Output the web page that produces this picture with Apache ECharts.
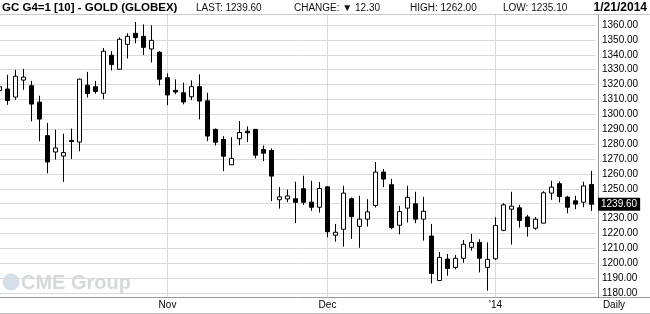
<!DOCTYPE html>
<html>
<head>
<meta charset="utf-8">
<script src="https://cdn.jsdelivr.net/npm/echarts@6/dist/echarts.min.js"></script>
<style>
html,body{margin:0;padding:0;background:#fff;}
#chart{width:650px;height:314px;}
</style>
</head>
<body>
<div id="chart"></div>
<script>
const dates = [
 '2013-10-03','2013-10-04','2013-10-07','2013-10-08','2013-10-09','2013-10-10','2013-10-11','2013-10-14','2013-10-15','2013-10-16',
 '2013-10-17','2013-10-18','2013-10-21','2013-10-22','2013-10-23','2013-10-24','2013-10-25','2013-10-28','2013-10-29','2013-10-30',
 '2013-10-31','2013-11-01','2013-11-04','2013-11-05','2013-11-06','2013-11-07','2013-11-08','2013-11-11','2013-11-12','2013-11-13',
 '2013-11-14','2013-11-15','2013-11-18','2013-11-19','2013-11-20','2013-11-21','2013-11-22','2013-11-25','2013-11-26','2013-11-27',
 '2013-11-29','2013-12-02','2013-12-03','2013-12-04','2013-12-05','2013-12-06','2013-12-09','2013-12-10','2013-12-11','2013-12-12',
 '2013-12-13','2013-12-16','2013-12-17','2013-12-18','2013-12-19','2013-12-20','2013-12-23','2013-12-24','2013-12-26','2013-12-27',
 '2013-12-30','2013-12-31','2014-01-02','2014-01-03','2014-01-06','2014-01-07','2014-01-08','2014-01-09','2014-01-10','2014-01-13',
 '2014-01-14','2014-01-15','2014-01-16','2014-01-17','2014-01-21'
];
const opens = [
 1316,1317,1311.6,1323,1319.2,1308.2,1285.7,1274.7,1272,1282.5,
 1281.4,1319.6,1318.5,1314.2,1339.7,1330.3,1347,1354.4,1352.4,1343.9,
 1341.7,1324.6,1316.1,1314.5,1311.8,1318.6,1309.1,1289.9,1283.1,1266.1,
 1283.6,1288.7,1289.9,1276.4,1275.7,1242.6,1243.2,1243.3,1250,1241,
 1237.6,1251.3,1218.8,1222.8,1243.3,1224.8,1229.6,1238.8,1261.2,1252.7,
 1225.5,1237,1239.9,1229.6,1218.3,1188.4,1202.8,1197.2,1203.3,1210.7,
 1214,1197.2,1203,1222.1,1236.3,1237.2,1231.1,1223.5,1226.9,1247.1,
 1253.4,1244.4,1241.9,1241,1252.9
];
const closes = [
 1318.5,1309.3,1325.6,1325,1306.9,1296.8,1268,1277.4,1274.3,1281.8,
 1323.6,1314,1315.4,1342.4,1333.4,1350.4,1352.4,1351.5,1345,1349.7,
 1323.6,1313,1315,1308.3,1318.6,1308.9,1285.4,1281.3,1271.9,1270.4,
 1287.8,1287.6,1272.6,1273.9,1258.5,1244.6,1245.2,1240.9,1240.9,1237.6,
 1250.2,1221.2,1220.8,1247.1,1231.3,1229.6,1234.5,1261.2,1256.5,1223.9,
 1234.7,1244.2,1229.6,1234.9,1193.1,1203.9,1196.5,1203.3,1212.7,1214,
 1203.3,1202.6,1225.3,1239.2,1238.3,1228.7,1224.6,1229.6,1247.3,1251.1,
 1244.8,1237.6,1239.7,1251.9,1239.6
];
const lows = [
 1314,1306.4,1309.8,1316.5,1295.3,1281.9,1260.4,1269.6,1254.6,1270,
 1275.2,1311.3,1313.8,1310.2,1329.4,1330,1337.5,1347.7,1339.9,1334.8,
 1319.4,1306.2,1313.6,1306.7,1309.6,1296.6,1282,1279.1,1261.8,1266,
 1279.3,1281.3,1270.4,1268.6,1241.7,1236.7,1241,1226.9,1239.2,1235.2,
 1234,1217.4,1214.5,1211.1,1216.3,1210.4,1224.6,1237.4,1251.1,1222.8,
 1219.4,1227.3,1226.9,1215.2,1186.4,1188,1191.6,1195.8,1200.3,1208.4,
 1193.8,1181.5,1202.1,1221.5,1212.5,1223.9,1217.9,1222.4,1226.9,1242.6,
 1240.8,1233.6,1236.3,1237.6,1235.1
];
const highs = [
 1321,1326.5,1329.9,1330.5,1322.5,1312.5,1294.2,1289.7,1287,1290.4,
 1324,1328.5,1322.5,1344.6,1342.4,1351.7,1354.4,1362,1360.4,1359.8,
 1342.6,1327.5,1323.5,1321.3,1322.8,1326.9,1314.5,1290.5,1285.4,1284.7,
 1295.5,1291.9,1290.2,1279.1,1277.1,1251.1,1249.5,1254.7,1258.8,1255.4,
 1254.5,1251.5,1226.4,1252,1244.2,1245.3,1243,1268,1263.3,1256.7,
 1238.5,1252,1248,1244.6,1226.4,1207.5,1206.2,1205.5,1215.6,1219.7,
 1216.1,1214,1230.9,1240.3,1248,1239.2,1232.5,1231.1,1248.4,1255.4,
 1254.9,1245.3,1245.3,1254.7,1262
];
const monthStartIdx = [21, 41, 62];
const monthLabels = ['Nov', 'Dec', "'14"];
const yGridValues = [1180,1190,1200,1210,1220,1230,1240,1250,1260,1270,1280,1290,1300,1310,1320,1330,1340,1350,1360];
const yLabelValues = [1180,1190,1200,1210,1220,1230,1250,1260,1270,1280,1290,1300,1310,1320,1330,1340,1350,1360];
const lastPrice = 1239.60;
const headerTitle = 'GC G4=1 [10] - GOLD (GLOBEX)';
const headerLast = 'LAST: 1239.60';
const headerChange = 'CHANGE: \u25BC 12.30';
const headerHigh = 'HIGH: 1262.00';
const headerLow = 'LOW: 1235.10';
const headerDate = '1/21/2014';

const FONT = '"Liberation Sans", Arial, "DejaVu Sans", sans-serif';
const candleData = dates.map((d, i) => [opens[i], closes[i], lows[i], highs[i]]);
const monthLines = monthStartIdx.map(i => ({ xAxis: dates[i] }));

const chart = echarts.init(document.getElementById('chart'), null, { renderer: 'canvas' });
chart.setOption({
  animation: false,
  backgroundColor: '#fff',
  grid: { left: -4.5, top: 15, width: 600, bottom: 16.7, containLabel: false, outerBoundsMode: 'none' },
  xAxis: {
    type: 'category',
    data: dates,
    boundaryGap: true,
    axisLine: { show: true, lineStyle: { color: '#999', width: 1 } },
    axisTick: { show: false },
    splitLine: { show: false },
    axisLabel: {
      interval: (idx) => monthStartIdx.indexOf(idx) >= 0,
      formatter: (v, idx) => { const k = monthStartIdx.indexOf(idx); return k >= 0 ? monthLabels[k] : ''; },
      color: '#000', fontSize: 10, fontFamily: FONT, margin: 3
    }
  },
  yAxis: {
    type: 'value',
    position: 'right',
    offset: 2.5,
    min: 1177.11,
    max: 1366.72,
    axisLine: { show: true, lineStyle: { color: '#999', width: 1 } },
    axisTick: { show: false, customValues: yGridValues },
    splitLine: { show: true, lineStyle: { color: '#d9d9d9', width: 1 } },
    axisLabel: {
      customValues: yLabelValues,
      formatter: (v) => v.toFixed(2),
      color: '#000', fontSize: 10, fontFamily: FONT, margin: 4, align: 'left'
    }
  },
  series: [
    {
      type: 'candlestick',
      data: candleData,
      barWidth: 5,
      z: 3,
      itemStyle: { color: '#fff', color0: '#000', borderColor: '#000', borderColor0: '#000', borderWidth: 1 },
      markLine: {
        z: 1,
        silent: true,
        symbol: ['none', 'none'],
        label: { show: false },
        lineStyle: { color: '#d9d9d9', width: 1, type: 'solid' },
        data: monthLines
      }
    },
    {
      type: 'line',
      data: closes,
      showSymbol: false,
      silent: true,
      lineStyle: { opacity: 0 },
      z: 1,
      markLine: {
        z: 10,
        silent: true,
        symbol: ['none', 'none'],
        lineStyle: { color: 'rgba(0,0,0,0)', width: 1 },
        label: {
          show: true, position: 'end', distance: 2.5,
          formatter: () => lastPrice.toFixed(2),
          backgroundColor: '#000', color: '#fff', fontSize: 10, fontFamily: FONT,
          padding: [2, 3, 1, 3]
        },
        data: [{ yAxis: lastPrice }]
      }
    }
  ],
  graphic: [
    { type: 'line', z: 0, shape: { x1: 0, y1: 14.5, x2: 650, y2: 14.5 }, style: { stroke: '#c8c8c8', lineWidth: 1 } },
    { type: 'line', z: 0, shape: { x1: 595, y1: 297.5, x2: 650, y2: 297.5 }, style: { stroke: '#999', lineWidth: 1 } },
    { type: 'line', z: 0, shape: { x1: 0, y1: 313.5, x2: 650, y2: 313.5 }, style: { stroke: '#bbb', lineWidth: 1 } },
    { type: 'text', x: 2, y: 7.5, style: { text: headerTitle, font: 'bold 11.5px ' + FONT, fill: '#000', verticalAlign: 'middle' } },
    { type: 'text', x: 196, y: 8, style: { text: headerLast, font: '10px ' + FONT, fill: '#111', verticalAlign: 'middle' } },
    { type: 'text', x: 294, y: 8, style: { text: headerChange, font: '10px ' + FONT, fill: '#111', verticalAlign: 'middle' } },
    { type: 'text', x: 410, y: 8, style: { text: headerHigh, font: '10px ' + FONT, fill: '#111', verticalAlign: 'middle' } },
    { type: 'text', x: 503, y: 8, style: { text: headerLow, font: '10px ' + FONT, fill: '#111', verticalAlign: 'middle' } },
    { type: 'text', x: 647, y: 7.5, style: { text: headerDate, font: 'bold 12px ' + FONT, fill: '#000', align: 'right', verticalAlign: 'middle' } },
    { type: 'text', x: 614, y: 305.5, style: { text: 'Daily', font: '10px ' + FONT, fill: '#000', align: 'center', verticalAlign: 'middle' } },
    { type: 'circle', z: 0, shape: { cx: 11, cy: 282, r: 8.5 }, style: { fill: '#d4dfe9' } },
    { type: 'text', z: 0, x: 21, y: 283, style: { text: 'CME Group', font: 'bold 20px ' + FONT, fill: '#d6d9dc', verticalAlign: 'middle' } }
  ]
});
</script>
</body>
</html>
